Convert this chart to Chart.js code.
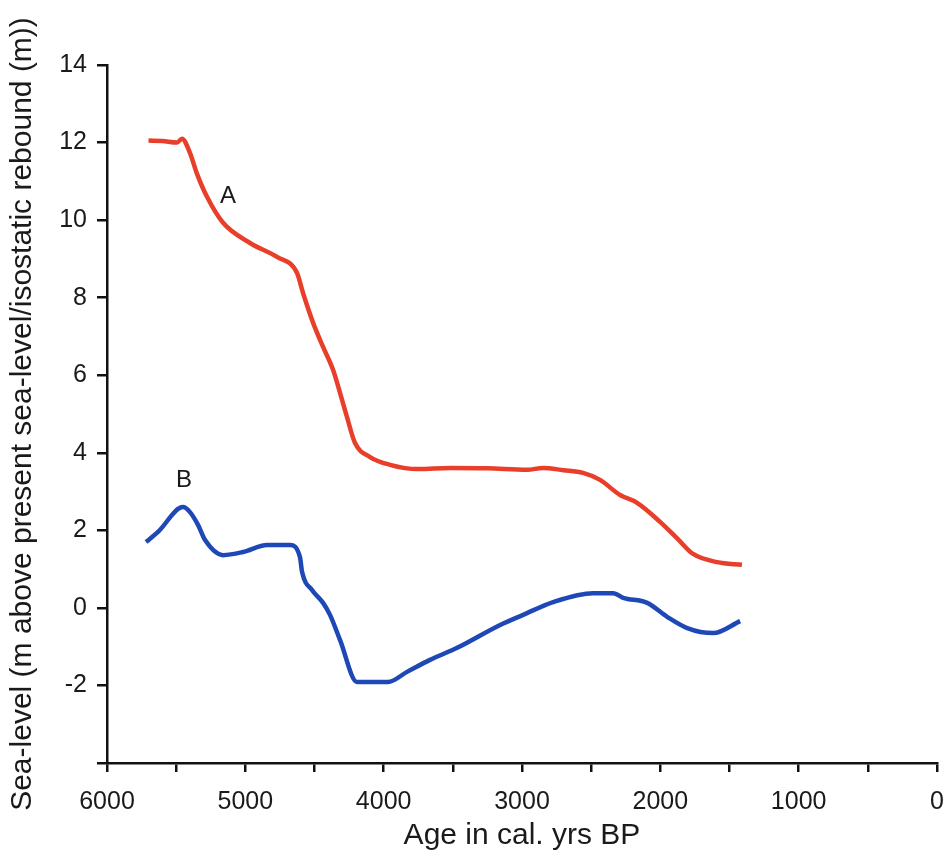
<!DOCTYPE html>
<html>
<head>
<meta charset="utf-8">
<title>Sea-level curves</title>
<script src="https://cdn.jsdelivr.net/npm/chart.js@4.4.1/dist/chart.umd.min.js"></script>
<style>
  html, body { margin: 0; padding: 0; background: #fff; }
  #wrap { width: 949px; height: 858px; position: relative; }
</style>
</head>
<body>
<div id="wrap"><canvas id="myChart" width="949" height="858"></canvas></div>
<script>
// curve A (red)
const ageA = [5700, 5600, 5494, 5458, 5400, 5350, 5277, 5161, 4966, 4771, 4627, 4583, 4510, 4438, 4366, 4315, 4265, 4207, 4098, 3954, 3751, 3520, 3250, 2963, 2848, 2700, 2559, 2436, 2291, 2168, 2002, 1880, 1763, 1590, 1410];
const levelA = [12.05, 12.04, 12.0, 12.1, 11.73, 11.2, 10.6, 9.93, 9.41, 9.05, 8.64, 8.12, 7.35, 6.73, 6.14, 5.54, 4.92, 4.25, 3.89, 3.69, 3.58, 3.61, 3.6, 3.56, 3.61, 3.55, 3.48, 3.30, 2.91, 2.71, 2.22, 1.8, 1.39, 1.18, 1.11];

// curve B (blue)
const ageB = [5718, 5631, 5450, 5400, 5342, 5291, 5161, 5017, 4843, 4677, 4605, 4590, 4518, 4438, 4388, 4315, 4193, 3969, 3831, 3665, 3469, 3158, 2992, 2775, 2486, 2341, 2269, 2095, 1951, 1806, 1618, 1423];
const levelB = [1.70, 1.96, 2.60, 2.47, 2.14, 1.75, 1.36, 1.44, 1.62, 1.62, 1.31, 0.93, 0.46, 0.13, -0.18, -0.83, -1.91, -1.91, -1.65, -1.34, -1.03, -0.44, -0.18, 0.15, 0.38, 0.38, 0.26, 0.13, -0.23, -0.52, -0.65, -0.34];

// curve labels, in data units
const curveNames = ['A', 'B'];
const nameAge = [5125, 5443];
const nameLevel = [10.6, 3.3];

const xTicks = [6000, 5000, 4000, 3000, 2000, 1000, 0];
const yTicks = [14, 12, 10, 8, 6, 4, 2, 0, -2];

const toPoints = (xs, ys) => xs.map((x, i) => ({ x: x, y: ys[i] }));

const fontFamily = '"Liberation Sans", Arial, sans-serif';

const curveLabels = {
    id: 'curveLabels',
    afterDatasetsDraw(chart) {
        const ctx = chart.ctx;
        const sx = chart.scales.x, sy = chart.scales.y;
        ctx.save();
        ctx.font = '24px ' + fontFamily;
        ctx.fillStyle = '#1a1a1a';
        ctx.textAlign = 'center';
        ctx.textBaseline = 'middle';
        curveNames.forEach((n, i) => {
            ctx.fillText(n, sx.getPixelForValue(nameAge[i]), sy.getPixelForValue(nameLevel[i]));
        });
        ctx.restore();
    }
};

const font = { family: fontFamily, size: 25 };

new Chart(document.getElementById('myChart').getContext('2d'), {
    type: 'line',
    data: {
        datasets: [{
            label: 'A',
            data: toPoints(ageA, levelA),
            borderColor: 'rgb(232, 62, 42)',
            borderWidth: 4.5,
            pointRadius: 0,
            cubicInterpolationMode: 'monotone',
            fill: false
        }, {
            label: 'B',
            data: toPoints(ageB, levelB),
            borderColor: 'rgb(30, 72, 182)',
            borderWidth: 4.5,
            pointRadius: 0,
            cubicInterpolationMode: 'monotone',
            fill: false
        }]
    },
    options: {
        responsive: false,
        animation: false,
        layout: { padding: { top: 65, right: 12, left: 0, bottom: 0 } },
        plugins: { legend: { display: false }, tooltip: { enabled: false } },
        scales: {
            x: {
                type: 'linear',
                reverse: true,
                min: 0,
                max: 6000,
                afterFit(scale) { scale.height = 95; },
                afterBuildTicks(scale) {
                    const t = [];
                    for (let v = 0; v <= 6000; v += 500) t.push({ value: v });
                    scale.ticks = t;
                },
                border: { display: true, color: '#111', width: 2.5 },
                grid: { drawOnChartArea: false, drawTicks: true, tickLength: 9, color: '#111', lineWidth: 2.5 },
                ticks: {
                    padding: 15,
                    color: '#1a1a1a',
                    font: font,
                    maxRotation: 0,
                    autoSkip: false,
                    callback: v => xTicks.includes(v) ? String(v) : ''
                },
                title: {
                    display: true,
                    text: 'Age in cal. yrs BP',
                    color: '#1a1a1a',
                    font: { family: fontFamily, size: 30 },
                    padding: { top: 8 }
                }
            },
            y: {
                min: -4,
                max: 14,
                afterFit(scale) { scale.width = 107; },
                afterBuildTicks(scale) {
                    const t = [];
                    for (let v = -4; v <= 14; v += 2) t.push({ value: v });
                    scale.ticks = t;
                },
                border: { display: true, color: '#111', width: 2.5 },
                grid: { drawOnChartArea: false, drawTicks: true, tickLength: 10, color: '#111', lineWidth: 2.5 },
                ticks: {
                    padding: 10,
                    color: '#1a1a1a',
                    font: font,
                    autoSkip: false,
                    callback: v => yTicks.includes(v) ? String(v) : ''
                },
                title: {
                    display: true,
                    text: 'Sea-level (m above present sea-level/isostatic rebound (m))',
                    color: '#1a1a1a',
                    font: { family: fontFamily, size: 30 },
                    padding: { top: 5, bottom: 0 }
                }
            }
        }
    },
    plugins: [curveLabels]
});
</script>
</body>
</html>
